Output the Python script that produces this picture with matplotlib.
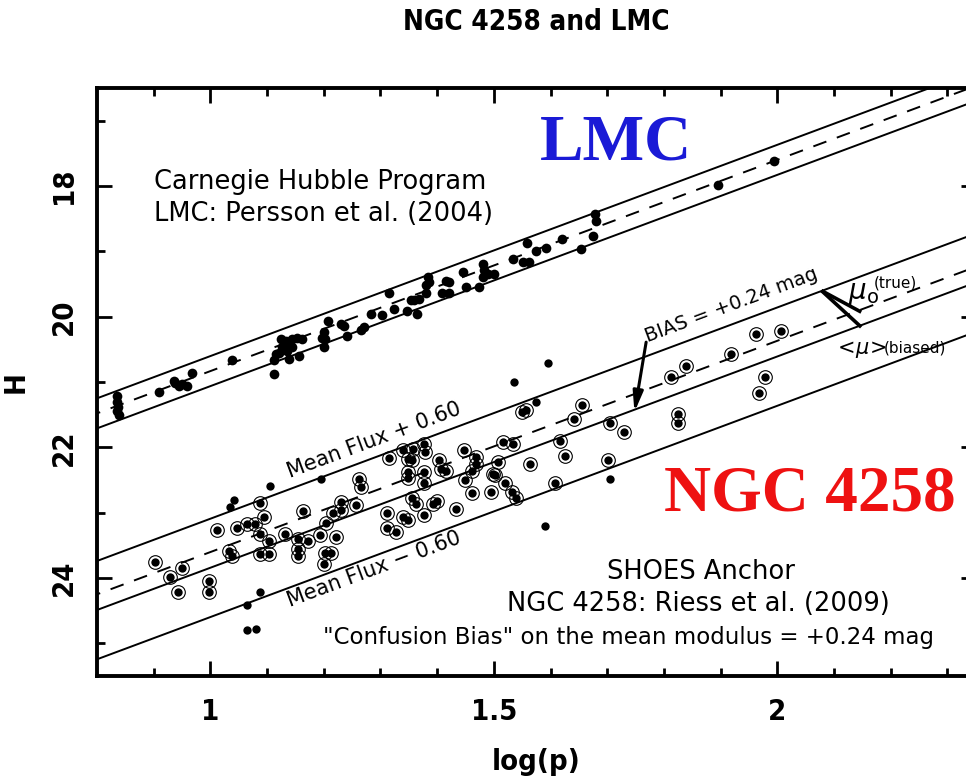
import numpy as np
import matplotlib
matplotlib.use('Agg')
import matplotlib.pyplot as plt

plt.rcParams['font.family'] = ['DejaVu Sans']
plt.rcParams['mathtext.fontset'] = 'dejavusans'
plt.rcParams['lines.scale_dashes'] = False

# LMC Cepheids, Persson et al. (2004)
lmc_logp = [0.835, 0.836, 0.837, 0.836, 0.838, 0.910, 0.935, 0.938, 0.944, 0.950, 0.959, 0.967, 1.038,
            1.112, 1.112, 1.115, 1.121, 1.124, 1.127, 1.133, 1.135, 1.138, 1.138, 1.144, 1.144, 1.153,
            1.156, 1.162, 1.197, 1.200, 1.203, 1.200, 1.208, 1.230, 1.236, 1.241, 1.265, 1.271, 1.283,
            1.302, 1.315, 1.324, 1.347, 1.353, 1.359, 1.365, 1.368, 1.383, 1.380, 1.380, 1.386, 1.415,
            1.421, 1.409, 1.421, 1.445, 1.450, 1.474, 1.480, 1.483, 1.489, 1.501, 1.480, 1.533, 1.551,
            1.562, 1.559, 1.574, 1.592, 1.621, 1.654, 1.675, 1.679, 1.681, 1.895, 1.994]
lmc_h = [21.22, 21.30, 21.38, 21.45, 21.50, 21.15, 20.98, 21.02, 21.06, 21.03, 21.06, 20.86, 20.66,
         20.87, 20.67, 20.57, 20.55, 20.34, 20.47, 20.37, 20.52, 20.42, 20.65, 20.34, 20.47, 20.32,
         20.60, 20.34, 20.32, 20.24, 20.34, 20.47, 20.07, 20.11, 20.14, 20.29, 20.21, 20.16, 19.96,
         19.98, 19.63, 19.88, 19.91, 19.75, 19.75, 19.96, 19.73, 19.40, 19.52, 19.63, 19.47, 19.45,
         19.47, 19.63, 19.63, 19.32, 19.55, 19.55, 19.19, 19.29, 19.34, 19.34, 19.40, 19.12, 19.17,
         19.17, 18.87, 18.99, 18.95, 18.81, 18.97, 18.76, 18.43, 18.53, 17.98, 17.61]

# NGC 4258 Cepheids used in the fit (circled), Riess et al. (2009)
ngc_logp = [0.903, 0.928, 0.950, 0.943, 0.997, 0.997, 1.012, 1.032, 1.039, 1.047, 1.064, 1.078,
            1.088, 1.095, 1.088, 1.103, 1.087, 1.103, 1.131, 1.155, 1.155, 1.155, 1.164, 1.172,
            1.193, 1.204, 1.202, 1.200, 1.212, 1.217, 1.222, 1.230, 1.231, 1.256, 1.262, 1.265,
            1.311, 1.312, 1.327, 1.315, 1.339, 1.349, 1.340, 1.349, 1.356, 1.357, 1.349, 1.349,
            1.355, 1.362, 1.376, 1.379, 1.376, 1.376, 1.376, 1.393, 1.400, 1.403, 1.406, 1.415,
            1.433, 1.448, 1.449, 1.462, 1.468, 1.469, 1.462, 1.495, 1.499, 1.502, 1.508, 1.517,
            1.534, 1.520, 1.532, 1.539, 1.549, 1.556, 1.564, 1.607, 1.617, 1.626, 1.642, 1.656,
            1.705, 1.729, 1.702, 1.824, 1.824, 1.813, 1.839, 1.919, 1.962, 2.006, 1.979, 1.968]
ngc_h = [23.76, 23.98, 23.85, 24.21, 24.04, 24.22, 23.26, 23.58, 23.66, 23.23, 23.18, 23.17,
         22.85, 23.06, 23.33, 23.43, 23.64, 23.64, 23.32, 23.40, 23.56, 23.67, 22.98, 23.44,
         23.34, 23.16, 23.61, 23.78, 23.62, 23.01, 23.38, 22.83, 22.96, 22.89, 22.48, 22.60,
         23.00, 23.23, 23.30, 22.16, 23.07, 23.11, 22.04, 22.18, 22.20, 22.02, 22.38, 22.47,
         22.77, 22.86, 21.95, 22.07, 22.38, 22.55, 23.03, 22.86, 22.82, 22.19, 22.33, 22.36,
         22.95, 22.04, 22.50, 22.70, 22.15, 22.25, 22.36, 22.69, 22.41, 22.43, 22.23, 21.92,
         21.95, 22.55, 22.69, 22.78, 21.46, 21.43, 22.25, 22.55, 21.90, 22.13, 21.57, 21.35,
         21.63, 21.76, 22.19, 21.49, 21.62, 20.92, 20.76, 20.57, 20.26, 20.22, 20.93, 21.17]

# NGC 4258 Cepheids rejected from the fit
rej_logp = [1.536, 1.596, 1.574, 1.106, 1.196, 1.041, 1.035, 1.591, 1.088, 1.064, 1.065, 1.080, 1.704]
rej_h = [21.00, 20.71, 21.30, 22.59, 22.48, 22.81, 22.91, 23.20, 24.22, 24.41, 24.80, 24.78, 22.49]

# P-L relations
pl_slope = -3.234
lmc_zp = 20.833       # H at log(p) = 1
lmc_width = 0.23
ngc_zp = 23.603       # true modulus line, H at log(p) = 1
bias = 0.24
flux_hi, flux_lo = 1.60, 0.40


def pl_line(zp, x):
    return zp + pl_slope * (x - 1.0)


fig = plt.figure(figsize=(9.66, 7.77), dpi=100)
ax = fig.add_axes([0.1004, 0.130, 0.9097, 0.7567])
ax.set_xlim(0.8, 2.35)
ax.set_ylim(25.5, 16.5)

xx = np.array([0.7, 2.5])
lw = 1.4
dash = (0, (10, 8))
# LMC
ax.plot(xx, pl_line(lmc_zp, xx), color='k', lw=lw, ls=dash)
ax.plot(xx, pl_line(lmc_zp - lmc_width, xx), color='k', lw=lw)
ax.plot(xx, pl_line(lmc_zp + lmc_width, xx), color='k', lw=lw)
# NGC 4258
ax.plot(xx, pl_line(ngc_zp, xx), color='k', lw=lw, ls=dash)
ax.plot(xx, pl_line(ngc_zp + bias, xx), color='k', lw=lw)
ax.plot(xx, pl_line(ngc_zp - 2.5 * np.log10(flux_hi), xx), color='k', lw=lw)
ax.plot(xx, pl_line(ngc_zp - 2.5 * np.log10(flux_lo), xx), color='k', lw=lw)

ax.plot(lmc_logp, lmc_h, 'o', color='k', ms=7, mew=0)
ax.plot(ngc_logp, ngc_h, 'o', mfc='none', mec='k', ms=9.8, mew=0.8)
ax.plot(ngc_logp, ngc_h, 'o', color='k', ms=6, mew=0)
ax.plot(rej_logp, rej_h, 'o', color='k', ms=6, mew=0)

# axes styling
narrow = ['DejaVu Sans']
for s in ax.spines.values():
    s.set_linewidth(2.8)
ax.set_xticks([1.0, 1.5, 2.0])
ax.set_xticklabels(['1', '1.5', '2'])
ax.set_xticks(np.arange(0.9, 2.36, 0.1), minor=True)
ax.set_yticks([18, 20, 22, 24])
ax.set_yticks([17, 19, 21, 23, 25], minor=True)
ax.tick_params(which='both', direction='in', top=True, right=True, width=2.0)
ax.tick_params(which='major', length=11)
ax.tick_params(which='minor', length=6)
ax.tick_params(axis='x', which='major', pad=16)
ax.tick_params(axis='y', which='major', pad=14, labelrotation=90)
for lab in ax.get_xticklabels() + ax.get_yticklabels():
    lab.set_family(narrow)
    lab.set_fontweight('bold')
    lab.set_fontstretch('condensed')
    lab.set_fontsize(21)
for lab in ax.get_yticklabels():
    lab.set_va('center')

ax.set_xlabel('log(p)', family=narrow, fontweight='bold', fontstretch='condensed',
              fontsize=21, labelpad=16)
ax.set_ylabel('H', family=narrow, fontweight='bold', fontstretch='condensed',
              fontsize=21, labelpad=14)
fig.text(0.5553, 0.9717, 'NGC 4258 and LMC', family=narrow, fontweight='bold',
         fontstretch='condensed', fontsize=20, ha='center', va='center')

# big labels
ax.text(1.716, 17.35, 'LMC', family='Liberation Serif', fontweight='bold', fontsize=47,
        color='#1a1ad6', ha='center', va='center')
ax.text(2.057, 22.72, 'NGC 4258', family='Liberation Serif', fontweight='bold', fontsize=47,
        color='#ee1111', ha='center', va='center')

# source notes
ax.text(0.900, 18.04, 'Carnegie Hubble Program', fontsize=18.5, ha='left', va='baseline')
ax.text(0.900, 18.53, 'LMC: Persson et al. (2004)', fontsize=18.5, ha='left', va='baseline')
ax.text(1.865, 24.01, 'SHOES Anchor', fontsize=18.5, ha='center', va='baseline')
ax.text(1.861, 24.50, 'NGC 4258: Riess et al. (2009)', fontsize=18.5, ha='center', va='baseline')
ax.text(1.738, 25.01, '"Confusion Bias" on the mean modulus = +0.24 mag', fontsize=16.5,
        ha='center', va='baseline')

# labels along the lines
p0 = ax.transData.transform((1.0, pl_line(ngc_zp, 1.0)))
p1 = ax.transData.transform((2.0, pl_line(ngc_zp, 2.0)))
ang = np.degrees(np.arctan2(p1[1] - p0[1], p1[0] - p0[0]))
ax.text(1.293, 21.97, 'Mean Flux + 0.60', fontsize=15, rotation=ang, rotation_mode='anchor',
        ha='center', va='baseline')
ax.text(1.293, 23.96, 'Mean Flux \u2212 0.60', fontsize=15, rotation=ang, rotation_mode='anchor',
        ha='center', va='baseline')
ax.text(1.922, 19.91, 'BIAS = +0.24 mag', fontsize=14, rotation=ang, rotation_mode='anchor',
        ha='center', va='baseline')

# bias arrow and the two pointers for the true and biased moduli
ax.annotate('', xy=(1.748, 21.46), xytext=(1.7686, 20.39),
            arrowprops=dict(arrowstyle='-|>,head_length=1.2,head_width=0.3', color='k', lw=2.2,
                            shrinkA=0, shrinkB=0))
ax.plot([2.0777, 2.148], [19.60, 19.93], color='k', lw=2.6, solid_capstyle='butt')
ax.plot([2.0777, 2.148], [19.60, 20.16], color='k', lw=2.6, solid_capstyle='butt')
ax.text(2.124, 19.73, r'$\mu_{\rm o}$', fontsize=20, ha='left', va='baseline')
ax.text(2.170, 19.55, '(true)', fontsize=11, ha='left', va='baseline')
ax.text(2.098, 20.57, r'$<\!\mu\!>$', fontsize=15, ha='left', va='baseline')
ax.text(2.188, 20.55, '(biased)', fontsize=11, ha='left', va='baseline')

fig.savefig('out.png', dpi=100)
